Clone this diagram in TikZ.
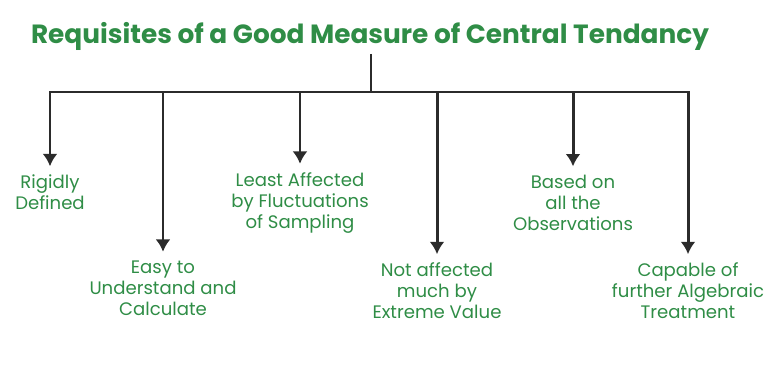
\documentclass[tikz,border=0pt]{standalone}
\usepackage{fontspec}
\setmainfont{Poppins}
\usetikzlibrary{arrows.meta}
\definecolor{leaf}{HTML}{2F8D46}
\definecolor{ink}{HTML}{2B2B2B}
\begin{document}
\begin{tikzpicture}[text=leaf,>={Latex[length=7pt,width=8.5pt]},
  item/.style={align=center,font=\fontsize{10.3}{12}\selectfont,inner sep=0pt,outer sep=5pt},
  wire/.style={ink,line width=1.7pt}]
  \useasboundingbox (0,0) rectangle (15.36,7.68);
  \node[font=\fontsize{15}{18}\bfseries\selectfont,inner sep=2pt] (title) at (7.4,6.96) {Requisites of a Good Measure of Central Tendancy};
  \coordinate (hub) at (7.42,5.84);
  \node[item] (rigid) at (1.0,3.83) {Rigidly\\Defined};
  \node[item] (easy) at (3.26,1.92) {Easy to\\Understand and\\Calculate};
  \node[item] (least) at (6.0,3.62) {Least Affected\\by Fluctuations\\of Sampling};
  \node[item] (extreme) at (8.74,1.86) {Not affected\\much by\\Extreme Value};
  \node[item] (based) at (11.46,3.62) {Based on\\all the\\Observations};
  \node[item] (capable) at (13.76,1.86) {Capable of\\further Algebraic\\Treatment};
  \draw[wire] (hub |- title.south) -- (hub);
  \draw[wire,line cap=rect] (rigid.north |- hub) -- (capable.north |- hub);
  \foreach \n in {rigid,easy,least,extreme,based,capable}
    \draw[wire,->] (\n.north |- hub) -- (\n.north);
\end{tikzpicture}
\end{document}
